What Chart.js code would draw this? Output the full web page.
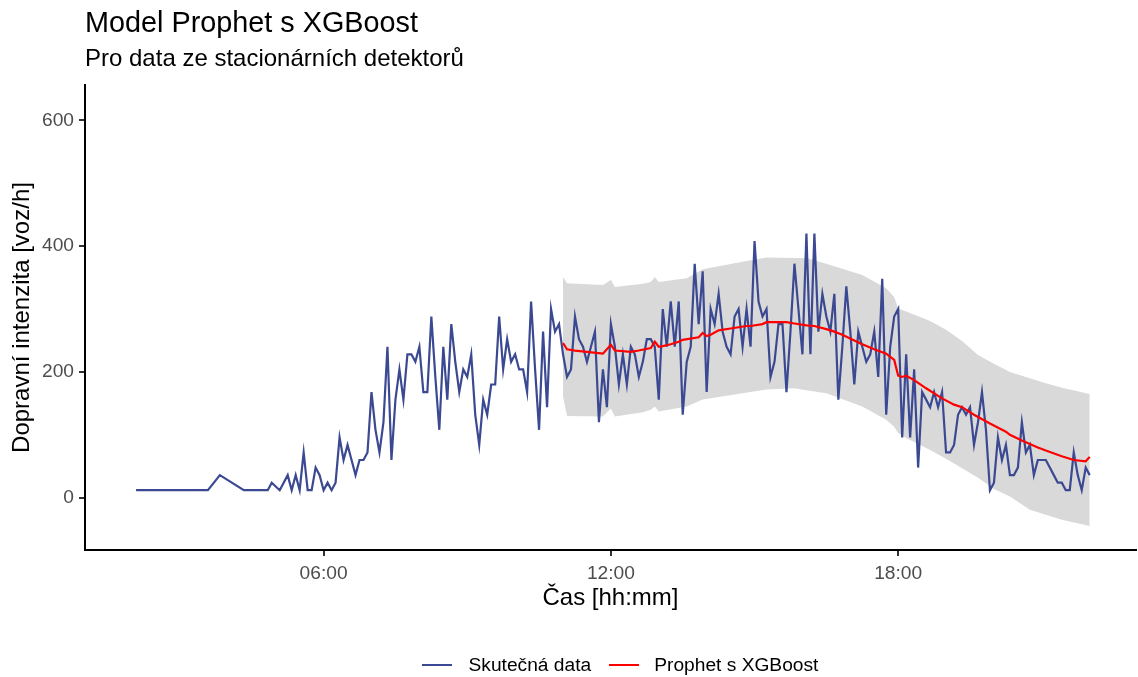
<!DOCTYPE html>
<html lang="cs">
<head>
<meta charset="utf-8">
<title>Model Prophet s XGBoost</title>
<script src="https://cdn.jsdelivr.net/npm/chart.js@4.4.1/dist/chart.umd.min.js"></script>
<style>
    html, body { margin: 0; padding: 0; background: #fff; }
    body { font-family: 'Liberation Sans', Arial, sans-serif; }
    .wrap { position: relative; width: 1138px; height: 677px; overflow: hidden; }
    .wrap canvas { position: absolute; left: 0; top: 0; }
    .title { position: absolute; left: 85px; top: 8px; font-size: 28.8px; line-height: 28.8px; color: #000; white-space: nowrap; }
    .subtitle { position: absolute; left: 85px; top: 46px; font-size: 24px; line-height: 24px; color: #000; white-space: nowrap; }
    .legend { position: absolute; left: 422px; top: 653px; height: 24px; display: flex; align-items: center; font-size: 19.2px; line-height: 24px; color: #000; white-space: nowrap; }
    .legend .key { width: 30px; height: 2.2px; }
    .legend .lbl { margin-left: 16.5px; margin-right: 17.5px; }
</style>
</head>
<body>
<div class="wrap">
    <canvas id="prophetChart" width="1138" height="677"></canvas>
    <div class="title">Model Prophet s XGBoost</div>
    <div class="subtitle">Pro data ze stacionárních detektorů</div>
    <div class="legend">
        <span class="key" style="background:#3B4992"></span><span class="lbl">Skutečná data</span>
        <span class="key" style="background:#FF0000"></span><span class="lbl" style="margin-left:15.5px">Prophet s XGBoost</span>
    </div>
</div>

<script>
// Skutečná data - 5minutové intervaly (voz/h)
const casy = [
    '02:05', '03:35', '03:50', '04:20', '04:50', '04:55', '05:05', '05:15', '05:20', '05:25', '05:30', '05:35', '05:40', '05:45', '05:50', '05:55',
    '06:00', '06:05', '06:10', '06:15', '06:20', '06:25', '06:30', '06:35', '06:40', '06:45', '06:50', '06:55',
    '07:00', '07:05', '07:10', '07:15', '07:20', '07:25', '07:30', '07:35', '07:40', '07:45', '07:50', '07:55',
    '08:00', '08:05', '08:10', '08:15', '08:20', '08:25', '08:30', '08:35', '08:40', '08:45', '08:50', '08:55',
    '09:00', '09:05', '09:10', '09:15', '09:20', '09:25', '09:30', '09:35', '09:40', '09:45', '09:50', '09:55',
    '10:00', '10:05', '10:10', '10:15', '10:20', '10:25', '10:30', '10:35', '10:40', '10:45', '10:50', '10:55',
    '11:00', '11:05', '11:10', '11:15', '11:20', '11:25', '11:30', '11:35', '11:40', '11:45', '11:50', '11:55',
    '12:00', '12:05', '12:10', '12:15', '12:20', '12:25', '12:30', '12:35', '12:40', '12:45', '12:50', '12:55',
    '13:00', '13:05', '13:10', '13:15', '13:20', '13:25', '13:30', '13:35', '13:40', '13:45', '13:50', '13:55',
    '14:00', '14:05', '14:10', '14:15', '14:20', '14:25', '14:30', '14:35', '14:40', '14:45', '14:50', '14:55',
    '15:00', '15:05', '15:10', '15:15', '15:20', '15:25', '15:30', '15:35', '15:40', '15:45', '15:50', '15:55',
    '16:00', '16:05', '16:10', '16:15', '16:20', '16:25', '16:30', '16:35', '16:40', '16:45', '16:50', '16:55',
    '17:00', '17:05', '17:10', '17:15', '17:20', '17:25', '17:30', '17:35', '17:40', '17:45', '17:50', '17:55',
    '18:00', '18:05', '18:10', '18:15', '18:20', '18:25', '18:30', '18:35', '18:40', '18:45', '18:50', '18:55',
    '19:00', '19:05', '19:10', '19:15', '19:20', '19:25', '19:30', '19:35', '19:40', '19:45', '19:50', '19:55',
    '20:00', '20:05', '20:10', '20:15', '20:20', '20:25', '20:30', '20:35', '20:40', '20:45', '20:50', '20:55',
    '21:00', '21:05', '21:10', '21:15', '21:20', '21:25', '21:30', '21:35', '21:40', '21:45', '21:50', '21:55',
    '22:00'
];
const skutecnaData = [
    12, 12, 36, 12, 12, 24, 12, 36, 12, 36, 12, 72, 12, 12, 48, 36,
    12, 24, 12, 24, 96, 60, 84, 60, 36, 60, 60, 72,
    168, 108, 72, 120, 240, 60, 156, 204, 156, 228, 228, 216,
    240, 168, 168, 288, 192, 108, 240, 156, 276, 216, 168, 204,
    192, 228, 132, 84, 156, 132, 180, 180, 288, 204, 252, 216,
    228, 204, 204, 168, 312, 204, 108, 264, 144, 300, 264, 276,
    228, 192, 204, 288, 252, 240, 216, 240, 264, 120, 204, 144,
    276, 240, 180, 228, 180, 240, 228, 192, 216, 252, 252, 240,
    156, 300, 240, 312, 240, 312, 132, 216, 240, 372, 276, 360,
    168, 300, 276, 324, 264, 240, 228, 288, 300, 240, 300, 240,
    408, 312, 288, 300, 192, 216, 276, 276, 168, 264, 372, 300,
    228, 420, 228, 420, 264, 324, 288, 264, 324, 156, 240, 336,
    264, 180, 264, 240, 216, 228, 264, 192, 348, 132, 240, 288,
    300, 96, 228, 96, 204, 48, 168, 156, 144, 168, 144, 168,
    72, 72, 84, 132, 144, 132, 144, 84, 120, 168, 108, 12,
    24, 96, 60, 84, 36, 36, 48, 120, 72, 84, 36, 60,
    60, 60, 48, 36, 24, 24, 12, 12, 72, 36, 12, 48,
    36
];

// Predikce Prophet s XGBoost
const prophetCasy = [
    '11:00', '11:05', '11:15', '11:30', '11:50', '12:00', '12:05', '12:25', '12:35', '12:50',
    '12:55', '13:00', '13:05', '13:15', '13:25', '13:30', '13:50', '13:55', '14:00', '14:05',
    '14:15', '14:30', '14:50', '14:55', '15:10', '15:15', '15:40', '15:50', '16:05', '16:15',
    '16:30', '16:40', '16:50', '17:05', '17:15', '17:30', '17:45', '17:55', '18:00', '18:05',
    '18:10', '18:20', '18:35', '18:55', '19:10', '19:20', '19:35', '19:55', '20:15', '20:20',
    '20:35', '20:55', '21:05', '21:25', '21:40', '21:55', '22:00'
];
const prophetData = [
    246, 236, 234, 232, 229, 243, 234, 232, 234, 238,
    248, 240, 241, 244, 248, 251, 255, 262, 257, 259,
    266, 269, 273, 273, 276, 279, 279, 277, 274, 273,
    268, 264, 259, 250, 244, 236, 229, 219, 194, 192,
    194, 187, 174, 158, 148, 144, 132, 118, 105, 100,
    91, 80, 75, 66, 60, 58, 65
];

// Interval predikce (šedé pásmo)
const pasmoCasy = [
    '11:00', '11:05', '11:50', '12:00', '12:05', '12:40', '12:50', '12:55', '13:00', '13:35',
    '13:55', '14:45', '15:15', '15:50', '16:05', '16:30', '17:15', '17:45', '17:55', '18:00',
    '18:10', '18:40', '19:00', '19:20', '19:40', '20:00', '20:20', '20:45', '21:05', '21:25',
    '22:00'
];
const pasmoHorni = [
    351, 341, 338, 346, 335, 340, 343, 351, 343, 349,
    363, 375, 382, 381, 381, 372, 354, 333, 319, 301,
    296, 281, 267, 249, 227, 213, 200, 190, 182, 175,
    165
];
const pasmoDolni = [
    161, 130, 129, 142, 129, 136, 140, 145, 137, 145,
    156, 166, 172, 174, 171, 166, 145, 124, 113, 103,
    95, 76, 62, 47, 32, 14, 2, -19, -27, -35,
    -45
];

const osaXTicks = ['06:00', '12:00', '18:00'];
const osaYTicks = [0, 200, 400, 600];

function naMinuty(cas) {
    const [h, m] = cas.split(':').map(Number);
    return h * 60 + m;
}

function naCas(minuty) {
    const h = Math.floor(minuty / 60);
    const m = Math.round(minuty % 60);
    return String(h).padStart(2, '0') + ':' + String(m).padStart(2, '0');
}

function body(casyArr, hodnoty) {
    return casyArr.map((c, i) => ({ x: naMinuty(c), y: hodnoty[i] }));
}

document.addEventListener('DOMContentLoaded', function() {
    const ctx = document.getElementById('prophetChart');
    const seda = '#4d4d4d';

    new Chart(ctx, {
        type: 'line',
        data: {
            datasets: [{
                label: 'Skutečná data',
                data: body(casy, skutecnaData),
                borderColor: '#3B4992',
                backgroundColor: '#3B4992',
                borderWidth: 2.2,
                pointRadius: 0,
                tension: 0,
                fill: false,
                order: 2
            }, {
                label: 'Prophet s XGBoost',
                data: body(prophetCasy, prophetData),
                borderColor: '#FF0000',
                backgroundColor: '#FF0000',
                borderWidth: 2.2,
                pointRadius: 0,
                tension: 0,
                fill: false,
                order: 1
            }, {
                label: 'horní mez',
                data: body(pasmoCasy, pasmoHorni),
                borderWidth: 0,
                borderColor: 'rgba(0,0,0,0)',
                backgroundColor: '#d9d9d9',
                pointRadius: 0,
                tension: 0,
                fill: '+1',
                order: 3
            }, {
                label: 'dolní mez',
                data: body(pasmoCasy, pasmoDolni),
                borderWidth: 0,
                borderColor: 'rgba(0,0,0,0)',
                backgroundColor: '#d9d9d9',
                pointRadius: 0,
                tension: 0,
                fill: false,
                order: 4
            }]
        },
        options: {
            responsive: false,
            animation: false,
            layout: {
                padding: { top: 85, right: 2, bottom: 0, left: 0 }
            },
            plugins: {
                legend: { display: false },
                tooltip: { enabled: false }
            },
            scales: {
                x: {
                    type: 'linear',
                    min: 61,
                    max: 1378,
                    afterBuildTicks: function(scale) {
                        scale.ticks = osaXTicks.map(t => ({ value: naMinuty(t) }));
                    },
                    afterFit: function(scale) {
                        scale.height = 127;
                    },
                    ticks: {
                        autoSkip: false,
                        maxRotation: 0,
                        padding: 6,
                        color: seda,
                        font: { family: "'Liberation Sans', Arial, sans-serif", size: 19.2 },
                        callback: function(value) {
                            return naCas(value);
                        }
                    },
                    grid: {
                        drawOnChartArea: false,
                        drawTicks: true,
                        tickLength: 6,
                        color: '#333333',
                        lineWidth: 2
                    },
                    border: { display: true, color: '#000', width: 2 },
                    title: {
                        display: true,
                        text: 'Čas [hh:mm]',
                        color: '#000',
                        font: { family: "'Liberation Sans', Arial, sans-serif", size: 24 },
                        padding: { top: 0, bottom: 64 }
                    }
                },
                y: {
                    min: -83,
                    max: 656,
                    afterBuildTicks: function(scale) {
                        scale.ticks = osaYTicks.map(v => ({ value: v }));
                    },
                    afterFit: function(scale) {
                        scale.width = 85;
                    },
                    ticks: {
                        padding: 5,
                        color: seda,
                        font: { family: "'Liberation Sans', Arial, sans-serif", size: 19.2 }
                    },
                    grid: {
                        drawOnChartArea: false,
                        drawTicks: true,
                        tickLength: 6,
                        color: '#333333',
                        lineWidth: 2
                    },
                    border: { display: true, color: '#000', width: 2 },
                    title: {
                        display: true,
                        text: 'Dopravní intenzita [voz/h]',
                        color: '#000',
                        font: { family: "'Liberation Sans', Arial, sans-serif", size: 24 },
                        padding: { top: 8, bottom: 0 }
                    }
                }
            }
        }
    });
});
</script>
</body>
</html>
